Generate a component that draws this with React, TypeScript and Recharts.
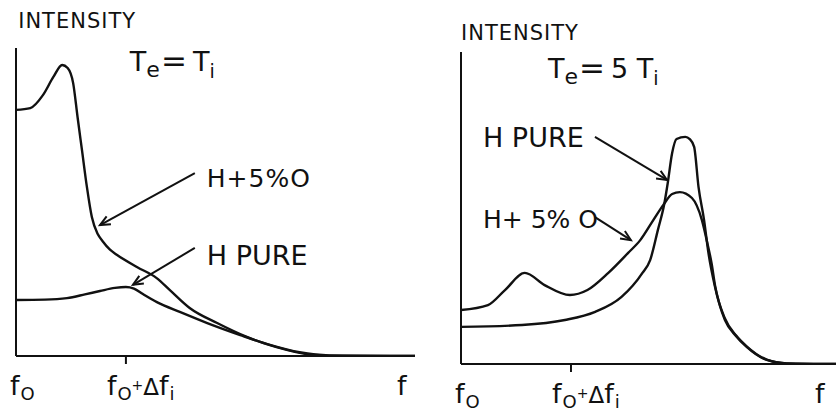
import React from 'react';
import { LineChart, Line, XAxis, YAxis, ReferenceLine, ReferenceDot } from 'recharts';

// Frequency in units of the ion shift (f0 = 0, f0 + Δfi = 1); intensity in arbitrary units.

// Panel 1: Te = Ti
const leftFreqOxy = [0, 0.13, 0.245, 0.34, 0.42, 0.47, 0.52, 0.56, 0.6, 0.645, 0.69, 0.745, 0.79, 0.855, 0.92, 1.1, 1.28, 1.4, 1.58, 1.83, 2.1, 2.37, 2.67, 2.97, 3.63];
const leftIntOxy = [7.99, 8.05, 8.47, 9.06, 9.45, 9.35, 8.86, 7.76, 6.69, 5.49, 4.51, 3.95, 3.72, 3.45, 3.28, 2.89, 2.53, 2.14, 1.56, 1.07, 0.62, 0.29, 0.05, 0, 0];
const leftFreqPure = [0, 0.264, 0.464, 0.627, 0.764, 0.9, 1.0, 1.073, 1.155, 1.282, 1.49, 1.74, 2.04, 2.31, 2.58, 2.85, 3.63];
const leftIntPure = [1.82, 1.83, 1.88, 2.0, 2.11, 2.21, 2.24, 2.19, 2.01, 1.75, 1.43, 1.07, 0.68, 0.36, 0.12, 0.02, 0];

// Panel 2: Te = 5 Ti
const rightFreqPure = [0, 0.555, 0.945, 1.22, 1.46, 1.65, 1.72, 1.79, 1.85, 1.88, 1.92, 1.96, 2.04, 2.08, 2.12, 2.16, 2.21, 2.25, 2.31, 2.4, 2.5, 2.6, 2.78, 2.96, 3.41];
const rightIntPure = [1.19, 1.25, 1.41, 1.67, 2.15, 2.92, 3.33, 4.29, 5.16, 5.8, 6.76, 7.21, 7.28, 7.21, 6.96, 5.67, 4.62, 3.56, 2.47, 1.41, 0.9, 0.54, 0.13, 0.02, 0];
const rightFreqOxy = [0, 0.245, 0.4, 0.58, 0.76, 0.99, 1.15, 1.34, 1.52, 1.63, 1.75, 1.84, 1.92, 1.99, 2.1, 2.19, 2.24, 2.28, 2.31, 2.4, 2.5, 2.6, 2.78, 2.96, 3.41];
const rightIntOxy = [1.73, 1.89, 2.37, 2.92, 2.53, 2.21, 2.37, 2.92, 3.56, 3.97, 4.62, 5.1, 5.45, 5.51, 5.32, 4.62, 3.88, 3.2, 2.52, 1.46, 0.92, 0.56, 0.14, 0.02, 0];

// Axis extents and tick positions
const leftFreqMax = 3.63;
const rightFreqMax = 3.41;
const intensityMax = 10;
const leftTicks = [0, 1, leftFreqMax];
const rightTicks = [0, 1, rightFreqMax];

// Text
const axisTitle = 'INTENSITY';
const labelOxy = 'H+5%O';
const labelOxySpaced = 'H+ 5% O';
const labelPure = 'H PURE';

const INK = '#111';
const FONT = '"DejaVu Sans", "Liberation Sans", sans-serif';

const toPoints = (fs: number[], vs: number[]) => fs.map((f, i) => ({ f, v: vs[i] }));

const FreqTick = (props: any) => {
  const { x, y, index } = props;
  const base = y + 39;
  const common = { fill: INK, fontFamily: FONT, stroke: 'none' } as const;
  if (index === 0) {
    return (
      <text x={x - 6} y={base} fontSize={27} {...common}>
        <tspan>f</tspan>
        <tspan fontSize={18} dx={1} dy={5}>O</tspan>
      </text>
    );
  }
  if (index === 1) {
    return (
      <g>
        <line x1={x} y1={y} x2={x} y2={y + 8} stroke={INK} strokeWidth={2} />
        <text x={x - 19} y={base} fontSize={27} {...common}>
          <tspan>f</tspan>
          <tspan fontSize={18} dx={1} dy={5}>O</tspan>
          <tspan fontSize={14} dy={-10}>+</tspan>
          <tspan fontSize={23} dy={5}>Δ</tspan>
          <tspan>f</tspan>
          <tspan fontSize={18} dx={1} dy={5}>i</tspan>
        </text>
      </g>
    );
  }
  return (
    <text x={x - 9} y={base} fontSize={27} {...common}>
      f
    </text>
  );
};

const arrowShape = (p: any) => {
  const { x1, y1, x2, y2 } = p;
  const ang = Math.atan2(y2 - y1, x2 - x1);
  const len = 11;
  const spread = 0.42;
  const ax = x2 - len * Math.cos(ang - spread);
  const ay = y2 - len * Math.sin(ang - spread);
  const bx = x2 - len * Math.cos(ang + spread);
  const by = y2 - len * Math.sin(ang + spread);
  return (
    <g>
      <line x1={x1} y1={y1} x2={x2} y2={y2} stroke={INK} strokeWidth={2} />
      <polyline points={`${ax},${ay} ${x2},${y2} ${bx},${by}`} fill="none" stroke={INK} strokeWidth={2} />
    </g>
  );
};

const textShape = (content: React.ReactNode, size: number, spacing = 0) => (p: any) => (
  <text x={p.cx} y={p.cy} fontSize={size} fill={INK} fontFamily={FONT} letterSpacing={spacing}>
    {content}
  </text>
);

const titleShape = (mid: string) => (p: any) => (
  <text x={p.cx} y={p.cy} fontSize={27} fill={INK} fontFamily={FONT}>
    <tspan>T</tspan>
    <tspan fontSize={22} dy={6}>e</tspan>
    <tspan fontSize={31} dx={1} dy={-6}>=</tspan>
    <tspan dx={6}>{mid}T</tspan>
    <tspan fontSize={19} dy={7}>i</tspan>
  </text>
);

const lineStyle = {
  type: 'monotone' as const,
  dataKey: 'v',
  stroke: INK,
  strokeWidth: 2.4,
  dot: false,
  activeDot: false,
  isAnimationActive: false,
};

const axisLine = { stroke: INK, strokeWidth: 2 };

export default function App() {
  return (
    <div style={{ position: 'absolute', left: 0, top: 0, width: 838, height: 417, background: '#fff' }}>
      <div style={{ position: 'absolute', left: 0, top: 0 }}>
        <LineChart width={420} height={417} margin={{ top: 48, right: 5, bottom: 0, left: 15 }}>
          <XAxis
            type="number"
            dataKey="f"
            domain={[0, leftFreqMax]}
            ticks={leftTicks}
            tick={FreqTick}
            tickLine={false}
            tickSize={0}
            tickMargin={0}
            height={61}
            axisLine={axisLine}
            allowDataOverflow
          />
          <YAxis type="number" domain={[0, intensityMax]} width={1} tick={false} tickLine={false} axisLine={axisLine} allowDataOverflow />
          <Line {...lineStyle} data={toPoints(leftFreqOxy, leftIntOxy)} />
          <Line {...lineStyle} data={toPoints(leftFreqPure, leftIntPure)} />
          <ReferenceLine segment={[{ x: 1.627, y: 5.94 }, { x: 0.764, y: 4.25 }]} ifOverflow="visible" shape={arrowShape} />
          <ReferenceLine segment={[{ x: 1.627, y: 3.51 }, { x: 1.064, y: 2.31 }]} ifOverflow="visible" shape={arrowShape} />
          <ReferenceDot x={0.02} y={10.65} ifOverflow="visible" shape={textShape(axisTitle, 21, 1)} />
          <ReferenceDot x={1.036} y={9.25} ifOverflow="visible" shape={titleShape('')} />
          <ReferenceDot x={1.736} y={5.49} ifOverflow="visible" shape={textShape(labelOxy, 25, 1)} />
          <ReferenceDot x={1.736} y={2.95} ifOverflow="visible" shape={textShape(labelPure, 27)} />
        </LineChart>
      </div>
      <div style={{ position: 'absolute', left: 420, top: 0 }}>
        <LineChart width={418} height={417} margin={{ top: 52, right: 2, bottom: 0, left: 40 }}>
          <XAxis
            type="number"
            dataKey="f"
            domain={[0, rightFreqMax]}
            ticks={rightTicks}
            tick={FreqTick}
            tickLine={false}
            tickSize={0}
            tickMargin={0}
            height={53}
            axisLine={axisLine}
            allowDataOverflow
          />
          <YAxis type="number" domain={[0, intensityMax]} width={1} tick={false} tickLine={false} axisLine={axisLine} allowDataOverflow />
          <Line {...lineStyle} data={toPoints(rightFreqPure, rightIntPure)} />
          <Line {...lineStyle} data={toPoints(rightFreqOxy, rightIntOxy)} />
          <ReferenceLine segment={[{ x: 1.218, y: 7.28 }, { x: 1.873, y: 5.9 }]} ifOverflow="visible" shape={arrowShape} />
          <ReferenceLine segment={[{ x: 1.218, y: 4.71 }, { x: 1.545, y: 3.97 }]} ifOverflow="visible" shape={arrowShape} />
          <ReferenceDot x={0} y={10.38} ifOverflow="visible" shape={textShape(axisTitle, 21, 1)} />
          <ReferenceDot x={0.79} y={9.17} ifOverflow="visible" shape={titleShape('5 ')} />
          <ReferenceDot x={0.2} y={6.96} ifOverflow="visible" shape={textShape(labelPure, 27)} />
          <ReferenceDot x={0.2} y={4.36} ifOverflow="visible" shape={textShape(labelOxySpaced, 25)} />
        </LineChart>
      </div>
    </div>
  );
}
